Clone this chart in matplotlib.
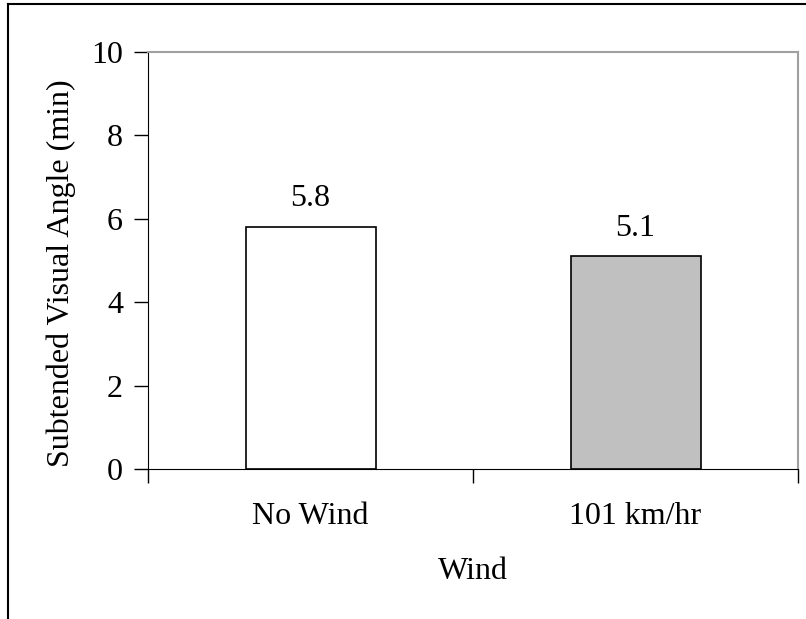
import matplotlib
matplotlib.use("Agg")
from matplotlib import pyplot as plt
from matplotlib.lines import Line2D

categories = ['No Wind', '101 km/hr']
values = [5.8, 5.1]
colors = ['white', '#c0c0c0']
labels = ['5.8', '5.1']

plt.rcParams['font.family'] = ['Liberation Serif', 'DejaVu Serif']

fig = plt.figure(figsize=(8.06, 6.19), dpi=100)
ax = fig.add_axes([148/806, 1 - 469/619, 650/806, 417/619])

x = range(len(categories))
ax.bar(x, values, width=0.4, color=colors, edgecolor='black', linewidth=1.2)
for i, v in enumerate(values):
    ax.text(i, v + 0.33, labels[i], ha='center', va='bottom', fontsize=23)

ax.set_xlim(-0.5, 1.5)
ax.set_ylim(0, 10)
ax.set_yticks([0, 2, 4, 6, 8, 10])
ax.set_xticks([0, 1])
ax.set_xticklabels(categories)
ax.set_xticks([-0.5, 0.5, 1.5], minor=True)
ax.tick_params(axis='x', which='major', length=0, pad=24, labelsize=23)
ax.tick_params(axis='x', which='minor', length=10, width=1, direction='out')
ax.tick_params(axis='y', length=10, width=1, direction='out', labelsize=23, pad=8)

ax.spines['top'].set_color('#a0a0a0')
ax.spines['right'].set_color('#a0a0a0')
ax.spines['top'].set_linewidth(1.5)
ax.spines['right'].set_linewidth(1.5)
ax.spines['left'].set_color('black')
ax.spines['bottom'].set_color('black')

ax.set_ylabel('Subtended Visual Angle (min)', fontsize=23, va='center')
ax.yaxis.set_label_coords(-0.134, 0.47)
ax.set_xlabel('Wind', fontsize=23)
ax.xaxis.set_label_coords(0.5, -0.212)

# outer frame (only top and left visible in the reference)
fig.add_artist(Line2D([8/806, 8/806], [0, 1 - 4/619], color='black', linewidth=1.5, transform=fig.transFigure))
fig.add_artist(Line2D([8/806, 1], [1 - 4/619, 1 - 4/619], color='black', linewidth=1.5, transform=fig.transFigure))

fig.savefig('out.png', dpi=100)
